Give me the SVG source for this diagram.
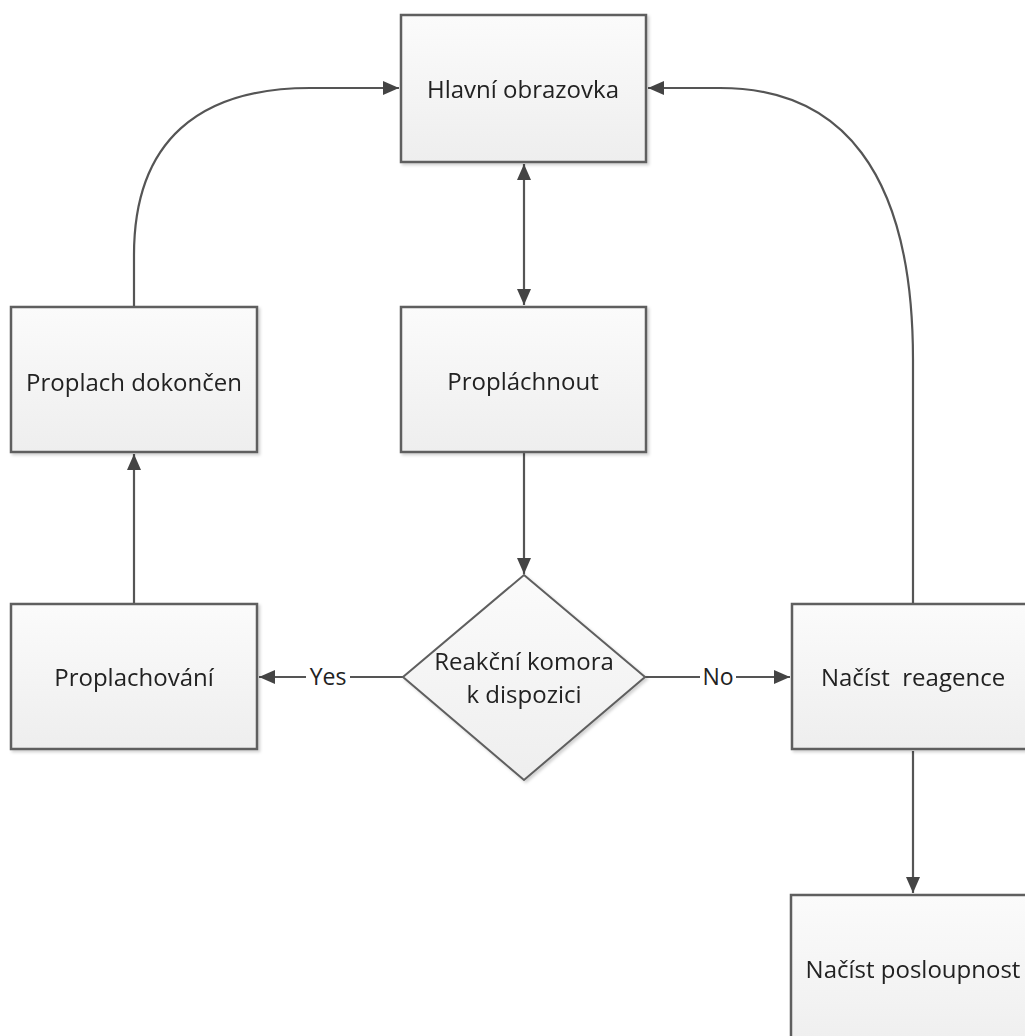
<svg xmlns="http://www.w3.org/2000/svg" width="1025" height="1036" viewBox="0 0 1025 1036">
<style>
.box{fill:url(#g);stroke:#5f5f5f;stroke-width:2.5}
.t{font-family:"Open Sans","Noto Sans",sans-serif;font-size:24px;fill:#222;text-anchor:middle;dominant-baseline:central}
.c{fill:none;stroke:#555;stroke-width:2.2}
.lbl{font-family:"Open Sans","Noto Sans",sans-serif;font-size:23px;fill:#222;text-anchor:middle;dominant-baseline:central}
</style>
<defs>
<linearGradient id="g" x1="0" y1="0" x2="0" y2="1"><stop offset="0" stop-color="#fbfbfb"/><stop offset="1" stop-color="#eeeeee"/></linearGradient>
<filter id="sh" x="-5%" y="-5%" width="115%" height="115%"><feDropShadow dx="2" dy="2" stdDeviation="1.5" flood-color="#000" flood-opacity="0.18"/></filter>
<marker id="a" viewBox="0 0 16 14" refX="16" refY="7" markerWidth="16" markerHeight="14" markerUnits="userSpaceOnUse" orient="auto-start-reverse"><path d="M0,0 L16,7 L0,14 Z" fill="#444"/></marker>
</defs>
<g id="connectors">
<path class="c" d="M524,164 L524,305" marker-start="url(#a)" marker-end="url(#a)"/>
<path class="c" d="M524,452 L524,574" marker-end="url(#a)"/>
<path class="c" d="M306,677 L259,677" marker-end="url(#a)"/>
<path class="c" d="M403,677 L350,677"/>
<path class="c" d="M645,677 L700,677"/>
<path class="c" d="M736,677 L790,677" marker-end="url(#a)"/>
<path class="c" d="M134,604 L134,454" marker-end="url(#a)"/>
<path class="c" d="M134,307 L134,255 C134,140 200,88 310,88 L399,88" marker-end="url(#a)"/>
<path class="c" d="M913,604 L913,360 C913,170 840,88 720,88 L648,88" marker-end="url(#a)"/>
<path class="c" d="M913,751 L913,893" marker-end="url(#a)"/>
<text class="lbl" x="328" y="676">Yes</text>
<text class="lbl" x="718" y="676">No</text>
</g>
<g id="n1" filter="url(#sh)"><rect class="box" x="401" y="15" width="245" height="147"/><text class="t" x="523" y="88">Hlavní obrazovka</text></g>
<g id="n2" filter="url(#sh)"><rect class="box" x="401" y="307" width="245" height="145"/><text class="t" x="523" y="380">Propláchnout</text></g>
<g id="n3" filter="url(#sh)"><rect class="box" x="11" y="307" width="246" height="145"/><text class="t" x="134" y="381">Proplach dokončen</text></g>
<g id="n4" filter="url(#sh)"><rect class="box" x="11" y="604" width="246" height="145"/><text class="t" x="134" y="676">Proplachování</text></g>
<g id="n5" filter="url(#sh)"><path class="box" style="stroke-width:2" d="M524,575 L645,677 L524,780 L403,677 Z"/><text class="t" x="524" y="660">Reakční komora</text><text class="t" x="524" y="693">k dispozici</text></g>
<g id="n6" filter="url(#sh)"><rect class="box" x="792" y="604" width="246" height="145"/><text class="t" x="913" y="676" style="white-space:pre">Načíst  reagence</text></g>
<g id="n7" filter="url(#sh)"><rect class="box" x="791" y="895" width="246" height="160"/><text class="t" x="913" y="968">Načíst posloupnost</text></g>
</svg>
